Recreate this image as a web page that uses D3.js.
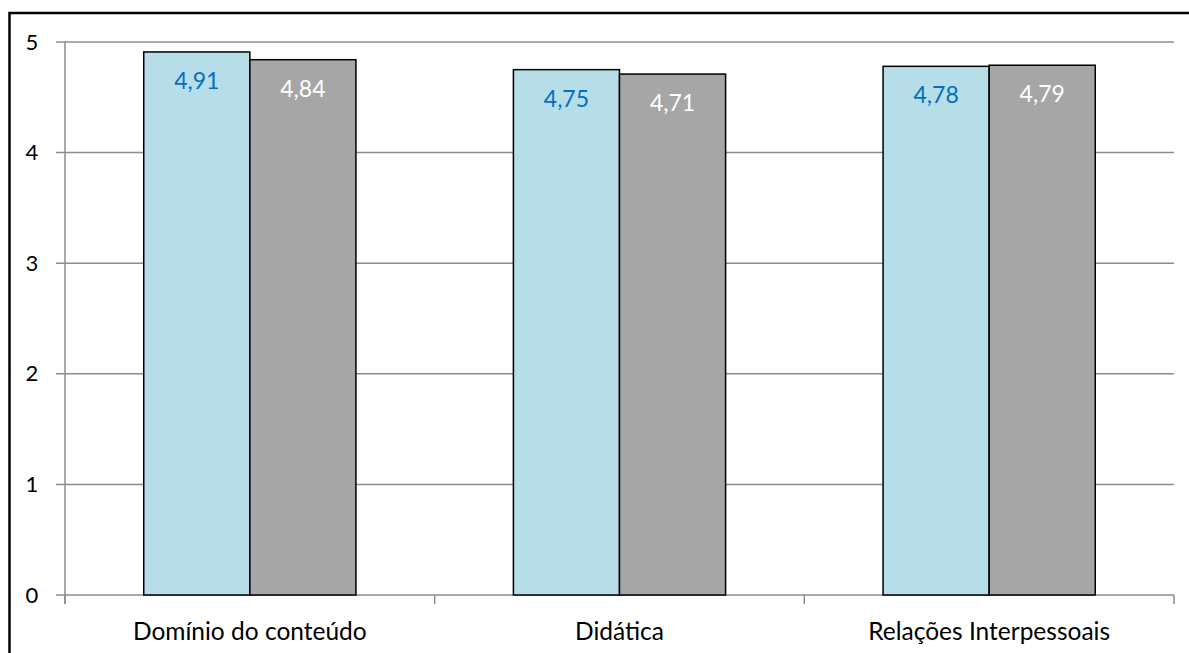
<!DOCTYPE html>
<html>
<head>
<meta charset="utf-8">
<script src="https://cdn.jsdelivr.net/npm/d3@7"></script>
<style>
  body { margin: 0; background: #fff; }
  svg { font-family: Lato, "Open Sans", sans-serif; }
  .grid line { stroke: #8c8c8c; stroke-width: 1.5; }
  .bar { stroke: #000; stroke-width: 1.5; }
</style>
</head>
<body>
<div id="chart"></div>
<script>
var categories = ["Domínio do conteúdo", "Didática", "Relações Interpessoais"];
var seriesA = [4.91, 4.75, 4.78];
var seriesB = [4.84, 4.71, 4.79];
var yTicks = [0, 1, 2, 3, 4, 5];

var width = 1189, height = 653;
var svg = d3.select("#chart").append("svg")
  .attr("width", width).attr("height", height);

// outer frame
svg.append("rect")
  .attr("x", 9.5).attr("y", 13).attr("width", 1200).attr("height", 700)
  .attr("fill", "none").attr("stroke", "#000").attr("stroke-width", 2.5);

var pLeft = 65, pRight = 1174, pTop = 42, pBottom = 595;

var x = d3.scaleBand().domain(categories).range([pLeft, pRight]);
var y = d3.scaleLinear().domain([0, 5]).range([pBottom, pTop]);
var barW = x.bandwidth() * 0.287;

// gridlines + tick marks
var grid = svg.append("g").attr("class", "grid");
grid.selectAll("line.h").data(yTicks).enter().append("line")
  .attr("x1", pLeft - 9).attr("x2", pRight)
  .attr("y1", function(d) { return y(d); })
  .attr("y2", function(d) { return y(d); });
grid.append("line").attr("x1", pLeft).attr("x2", pLeft).attr("y1", pTop).attr("y2", pBottom + 9);
var xt = [pLeft].concat(categories.map(function(c) { return x(c) + x.bandwidth(); }));
grid.selectAll("line.v").data(xt).enter().append("line")
  .attr("x1", function(d) { return d; }).attr("x2", function(d) { return d; })
  .attr("y1", pBottom).attr("y2", pBottom + 9);

// y labels
svg.selectAll("text.ylab").data(yTicks).enter().append("text")
  .attr("x", 32).attr("y", function(d) { return y(d) + 7.5; })
  .attr("text-anchor", "middle")
  .attr("font-size", 22).text(function(d) { return d; });

// x labels
svg.selectAll("text.xlab").data(categories).enter().append("text")
  .attr("x", function(d) { return x(d) + x.bandwidth() / 2; })
  .attr("y", 640).attr("text-anchor", "middle")
  .attr("font-size", 24.5).text(function(d) { return d; });

var fmt = function(v) { return v.toFixed(2).replace(".", ","); };

function drawSeries(vals, offset, fill, labColor) {
  var g = svg.append("g");
  g.selectAll("rect").data(vals).enter().append("rect")
    .attr("class", "bar")
    .attr("x", function(d, i) { return x.bandwidth() / 2 + x(categories[i]) + offset; })
    .attr("y", function(d) { return y(d); })
    .attr("width", barW)
    .attr("height", function(d) { return pBottom - y(d); })
    .attr("fill", fill);
  g.selectAll("text").data(vals).enter().append("text")
    .attr("x", function(d, i) { return x.bandwidth() / 2 + x(categories[i]) + offset + barW / 2; })
    .attr("y", function(d) { return y(d) + 37; })
    .attr("text-anchor", "middle").attr("font-size", 23)
    .attr("fill", labColor).text(fmt);
}
drawSeries(seriesA, -barW, "#b7dde8", "#0070c0");
drawSeries(seriesB, 0, "#a6a6a6", "#ffffff");
</script>
</body>
</html>
